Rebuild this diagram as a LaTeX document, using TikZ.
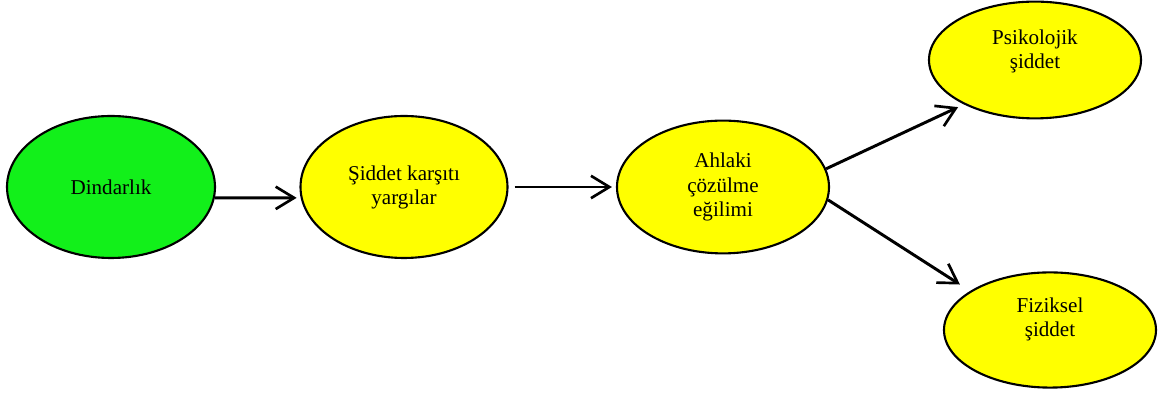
\documentclass[tikz,border=0pt]{standalone}
\usepackage{fontspec}
\setmainfont{Liberation Serif}
\usetikzlibrary{shapes.geometric,arrows.meta}
\definecolor{dingreen}{RGB}{18,240,26}
\definecolor{boxyellow}{RGB}{255,255,0}
\tikzset{
	oval/.style={ellipse, draw=black, line width=1.5pt, fill=boxyellow, align=center,
		inner sep=0pt, font=\fontsize{15}{17.1}\selectfont},
	link/.style={line width=2.1pt, -{Straight Barb[length=0.46cm, width=0.56cm, line width=1.9pt]}}
}
\begin{document}
\begin{tikzpicture}
	\useasboundingbox (0, 0) rectangle (29.4, 9.85);
	\node[oval, fill=dingreen, minimum width=5.2cm, minimum height=3.55cm] (dindar) at (2.775, 5.175) {Dindarlık};
	\node[oval, minimum width=5.175cm, minimum height=3.55cm] (siddet) at (10.1, 5.175) {Şiddet karşıtı\\yargılar};
	\node[oval, minimum width=5.3cm, minimum height=3.32cm] (ahlaki) at (18.075, 5.175) {Ahlaki\\çözülme\\eğilimi};
	\node[oval, minimum width=5.3cm, minimum height=2.92cm, text depth=0.55cm] (psiko) at (25.875, 8.35) {Psikolojik\\şiddet};
	\node[oval, minimum width=5.3cm, minimum height=2.88cm, text depth=0.62cm] (fizik) at (26.25, 1.6) {Fiziksel\\şiddet};
	\draw[link, shorten >=0.1cm] (dindar.-6) -- (siddet.186);
	\draw[link, shorten <=0.15cm, shorten >=0.1cm] (siddet.east) -- (ahlaki.west);
	\draw[link, shorten >=0.16cm] (ahlaki.10) -- (psiko.212);
	\draw[link, shorten >=0.3cm] (ahlaki.-7) -- (fizik.154);
\end{tikzpicture}
\end{document}
